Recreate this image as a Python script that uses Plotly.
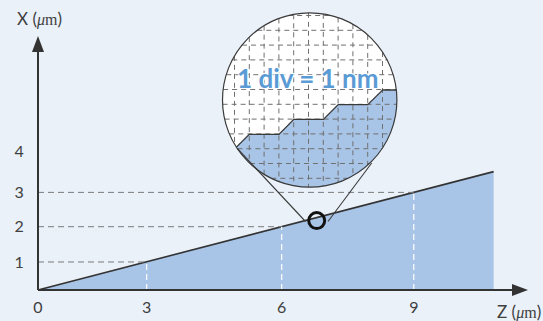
import math
import plotly.graph_objects as go

# ---------------- data ----------------
z_tick_labels = ["0", "3", "6", "9"]
z_tick_pos = [0.0, 2.6, 5.83, 8.99]          # schematic positions of Z ticks
x_tick_labels = ["1", "2", "3", "4"]
x_tick_pos = [0.857, 1.936, 2.985, 4.25]      # schematic positions of X ticks
line_z = [0.0, 10.9]                          # sloped surface profile
line_x = [0.0, 3.62]
guide_z = [2.6, 5.83, 8.99]                   # guides where line meets ticks
guide_x = [0.857, 1.936, 2.985]

# ---------------- style / geometry ----------------
W, H = 543, 321
OX, OY = 38, 290            # pixel location of the origin
SX, SY = 41.8, 32.7         # pixels per unit
BG = "#eaf1f9"
FILL = "#a8c4e7"
DARK = "#333333"
TXT = "#404040"
FONT = "Lato"


def zx(px):
    return (px - OX) / SX


def xy(py):
    return (OY - py) / SY


def path_from_px(pts, close=True):
    s = "M " + " L ".join(f"{zx(p[0]):.4f},{xy(p[1]):.4f}" for p in pts)
    return s + (" Z" if close else "")


fig = go.Figure()

# filled wedge + profile line
fig.add_trace(go.Scatter(x=line_z, y=line_x, mode="lines", fill="tozeroy",
                         fillcolor=FILL, line=dict(color=DARK, width=1.6),
                         hoverinfo="skip"))

# horizontal grey dashed guides
for gz, gx in zip(guide_z, guide_x):
    fig.add_trace(go.Scatter(x=[0, gz], y=[gx, gx], mode="lines",
                             line=dict(color="#7a7a7a", width=1, dash="6px,4px"),
                             hoverinfo="skip"))
# vertical white dashed guides
for gz, gx in zip(guide_z, guide_x):
    fig.add_trace(go.Scatter(x=[gz, gz], y=[0, gx], mode="lines",
                             line=dict(color="white", width=1.2, dash="6px,4px"),
                             hoverinfo="skip"))

shapes = []
# axes lines and arrowheads
shapes.append(dict(type="line", x0=zx(OX), x1=zx(513), y0=0, y1=0,
                   line=dict(color=DARK, width=2)))
shapes.append(dict(type="line", x0=0, x1=0, y0=0, y1=xy(51),
                   line=dict(color=DARK, width=2)))
shapes.append(dict(type="path", path=path_from_px([(512, 284), (528, 290), (512, 296)]),
                   fillcolor=DARK, line=dict(width=0)))
shapes.append(dict(type="path", path=path_from_px([(32, 52), (38, 36), (44, 52)]),
                   fillcolor=DARK, line=dict(width=0)))

# magnifier
cx, cy, r = 309.7, 100.0, 87.2
shapes.append(dict(type="circle", x0=zx(cx - r), x1=zx(cx + r), y0=xy(cy + r), y1=xy(cy - r),
                   fillcolor="white", line=dict(width=0)))

stairs = [(204.9, 178.5), (219.7, 163.8), (234.5, 149.0), (249.3, 134.3), (279.0, 134.3),
          (293.8, 119.4), (323.4, 119.4), (338.2, 104.6), (367.8, 104.6),
          (382.6, 90.0), (420.0, 90.0)]


def stair_y(px):
    for (x0, y0), (x1, y1) in zip(stairs[:-1], stairs[1:]):
        if x0 <= px <= x1:
            return y0 + (y1 - y0) * (px - x0) / (x1 - x0)
    return stairs[-1][1]


xs = set()
k = cx - r
while k <= cx + r:
    xs.add(round(k, 3))
    k += 0.2
for p in stairs:
    xs.add(p[0])
xs = sorted(xs)
inside = [(px, stair_y(px)) for px in xs
          if (px - cx) ** 2 + (stair_y(px) - cy) ** 2 <= r * r]
left, right = inside[0], inside[-1]
a_r = math.atan2(right[1] - cy, right[0] - cx)
a_l = math.atan2(left[1] - cy, left[0] - cx)
if a_l < a_r:
    a_l += 2 * math.pi
arc = []
n = 120
for i in range(n + 1):
    a = a_r + (a_l - a_r) * i / n
    arc.append((cx + r * math.cos(a), cy + r * math.sin(a)))
shapes.append(dict(type="path", path=path_from_px(inside + arc), fillcolor=FILL,
                   line=dict(width=0)))

# grid inside magnifier
step = 14.8
gx0, gy0 = 234.5, 15.5
for i in range(-3, 15):
    px = gx0 + step * i
    if abs(px - cx) < r - 1:
        h = math.sqrt(r * r - (px - cx) ** 2)
        shapes.append(dict(type="line", x0=zx(px), x1=zx(px), y0=xy(cy - h), y1=xy(cy + h),
                           line=dict(color="#707070", width=1, dash="5px,4px")))
for i in range(-3, 15):
    py = gy0 + step * i
    if abs(py - cy) < r - 1:
        h = math.sqrt(r * r - (py - cy) ** 2)
        shapes.append(dict(type="line", x0=zx(cx - h), x1=zx(cx + h), y0=xy(py), y1=xy(py),
                           line=dict(color="#707070", width=1, dash="5px,4px")))

# staircase profile line
shapes.append(dict(type="path", path=path_from_px(inside, close=False),
                   line=dict(color="#3a3a3a", width=1.3)))
# magnifier outline
shapes.append(dict(type="circle", x0=zx(cx - r), x1=zx(cx + r), y0=xy(cy + r), y1=xy(cy - r),
                   line=dict(color="#3a3a3a", width=1.2)))

# connecting lines + small ring
scx, scy, sr = 316.7, 220.6, 8.0
shapes.append(dict(type="line", x0=zx(237.3), y0=xy(148.5), x1=zx(305.5), y1=xy(221.5),
                   line=dict(color="#3a3a3a", width=1.1)))
shapes.append(dict(type="line", x0=zx(371.7), y0=xy(163.0), x1=zx(328.0), y1=xy(221.5),
                   line=dict(color="#3a3a3a", width=1.1)))
shapes.append(dict(type="circle", x0=zx(scx - sr), x1=zx(scx + sr), y0=xy(scy + sr), y1=xy(scy - sr),
                   line=dict(color="#111111", width=3)))

annotations = [
    dict(x=zx(307.5), y=xy(78), xref="x", yref="y", showarrow=False,
         text="<b>1 div = 1 nm</b>",
         font=dict(family=FONT, size=26, color="#5b9bd5", weight=800,
                   shadow="1px 1px 1px white, -1px -1px 1px white, 1px -1px 1px white, -1px 1px 1px white")),
    dict(x=zx(39), y=xy(18), xref="x", yref="y", showarrow=False,
         text="X (<span style='font-family:Liberation Serif;font-size:16px'><i>μ</i>m</span>)",
         font=dict(family=FONT, size=17, color=TXT)),
    dict(x=zx(519), y=xy(311), xref="x", yref="y", showarrow=False,
         text="Z (<span style='font-family:Liberation Serif;font-size:16px'><i>μ</i>m</span>)",
         font=dict(family=FONT, size=17, color=TXT)),
]

fig.update_layout(
    width=W, height=H,
    margin=dict(l=0, r=0, t=0, b=0, pad=0, autoexpand=False),
    paper_bgcolor=BG, plot_bgcolor=BG,
    showlegend=False,
    shapes=shapes,
    annotations=annotations,
    xaxis=dict(range=[zx(0), zx(W)], tickvals=z_tick_pos, ticktext=z_tick_labels,
               anchor="free", position=(H - OY) / H, showgrid=False, zeroline=False,
               showline=False, ticks="outside", ticklen=3, tickcolor="rgba(0,0,0,0)",
               tickfont=dict(family=FONT, size=16, color=TXT), fixedrange=True,
               automargin=False),
    yaxis=dict(range=[xy(H), xy(0)], tickvals=x_tick_pos, ticktext=x_tick_labels,
               anchor="free", position=OX / W, showgrid=False, zeroline=False,
               showline=False, ticks="outside", ticklen=11, tickcolor="rgba(0,0,0,0)",
               tickfont=dict(family=FONT, size=16, color=TXT), fixedrange=True,
               automargin=False),
)

fig.write_html("out.html", config={"displayModeBar": False},
               post_script="document.body.style.margin='0';document.body.style.padding='0';"
                           "document.body.style.overflow='hidden';")
